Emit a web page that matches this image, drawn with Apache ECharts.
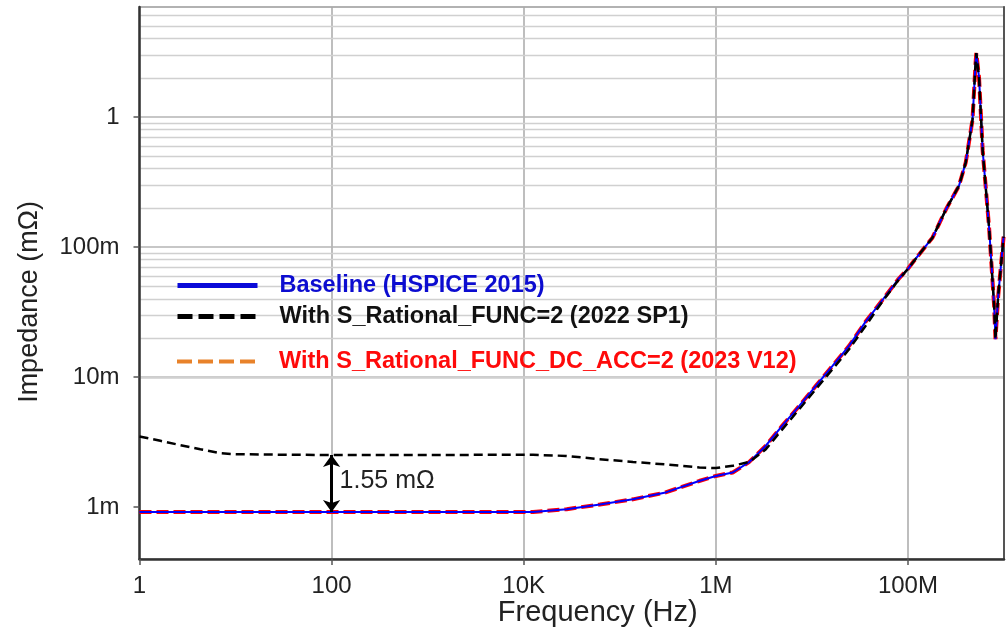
<!DOCTYPE html>
<html><head><meta charset="utf-8">
<script src="https://cdn.jsdelivr.net/npm/echarts@6/dist/echarts.min.js"></script>
<style>html,body{margin:0;padding:0;background:#fff}#c{width:1007px;height:627px}</style>
</head><body><div id="c"></div>
<script>
// ---- data (frequency in Hz, impedance in ohm) ----
const baseFreq = [1, 10, 100, 1e3, 5.6e3, 1.25e4, 2.8e4, 6.2e4, 1.37e5, 3.0e5, 6.7e5, 1e6, 1.5e6, 2.2e6, 3.3e6, 4.9e6, 7.4e6, 1.1e7, 1.64e7, 2.44e7, 3.6e7, 5.4e7, 8.0e7, 1.0e8, 1.2e8, 1.8e8, 2.5e8, 3.4e8, 4.0e8, 4.7e8, 5.06e8, 5.15e8, 5.5e8, 6.0e8, 7.0e8, 7.9e8, 8.15e8, 8.7e8, 9.9e8];
const baselineValues = [0.92e-3, 0.92e-3, 0.92e-3, 0.92e-3, 0.92e-3, 0.92e-3, 0.966e-3, 1.05e-3, 1.15e-3, 1.30e-3, 1.59e-3, 1.74e-3, 1.85e-3, 2.21e-3, 2.96e-3, 4.22e-3, 6.02e-3, 8.57e-3, 12.2e-3, 17.4e-3, 26.5e-3, 39e-3, 57e-3, 68e-3, 81e-3, 118e-3, 196e-3, 296e-3, 448e-3, 0.95, 2.6, 3.1, 2.0, 0.55, 0.14, 0.035, 0.0196, 0.042, 0.12];
const dcAccValues = [0.92e-3, 0.92e-3, 0.92e-3, 0.92e-3, 0.92e-3, 0.92e-3, 0.966e-3, 1.05e-3, 1.15e-3, 1.30e-3, 1.59e-3, 1.74e-3, 1.85e-3, 2.21e-3, 2.96e-3, 4.22e-3, 6.02e-3, 8.57e-3, 12.2e-3, 17.4e-3, 26.5e-3, 39e-3, 57e-3, 68e-3, 81e-3, 118e-3, 196e-3, 296e-3, 448e-3, 0.95, 2.6, 3.1, 2.0, 0.55, 0.14, 0.035, 0.0196, 0.042, 0.12];
const sp1Freq = [1, 1.65, 2.67, 4.3, 6.9, 9.5, 21, 100, 1e3, 5.6e3, 1.25e4, 2.77e4, 6.16e4, 1.37e5, 3.04e5, 6.74e5, 1e6, 1.5e6, 2.23e6, 3.32e6, 4.94e6, 7.38e6, 1.1e7, 1.64e7, 2.44e7, 3.63e7, 5.4e7, 8.0e7, 1.0e8, 1.2e8, 1.8e8, 2.5e8, 3.4e8, 4.0e8, 4.7e8, 5.06e8, 5.15e8, 5.5e8, 6.0e8, 7.0e8, 7.9e8, 8.15e8, 8.7e8, 9.9e8];
const sp1Values = [3.50e-3, 3.24e-3, 3.0e-3, 2.79e-3, 2.60e-3, 2.56e-3, 2.54e-3, 2.52e-3, 2.52e-3, 2.53e-3, 2.53e-3, 2.48e-3, 2.34e-3, 2.23e-3, 2.13e-3, 2.02e-3, 2.0e-3, 2.08e-3, 2.23e-3, 2.79e-3, 3.98e-3, 5.67e-3, 8.09e-3, 11.5e-3, 16.4e-3, 24.8e-3, 38e-3, 56e-3, 68e-3, 81e-3, 118e-3, 196e-3, 296e-3, 448e-3, 0.95, 2.6, 3.1, 2.0, 0.55, 0.14, 0.035, 0.0196, 0.042, 0.12];

const seriesNames = ['Baseline (HSPICE 2015)', 'With S_Rational_FUNC=2 (2022 SP1)', 'With S_Rational_FUNC_DC_ACC=2 (2023 V12)'];

const xTickValues = [1, 100, 1e4, 1e6, 1e8];
const xTickLabels = ['1', '100', '10K', '1M', '100M'];
const xGridValues = [100, 1e4, 1e6, 1e8];
const yTickValues = [1e-3, 1e-2, 1e-1, 1];
const yTickLabels = ['1m', '10m', '100m', '1'];
const yMinorValues = [5e-4, 6e-4, 7e-4, 8e-4, 9e-4,
  2e-3, 3e-3, 4e-3, 5e-3, 6e-3, 7e-3, 8e-3, 9e-3,
  2e-2, 3e-2, 4e-2, 5e-2, 6e-2, 7e-2, 8e-2, 9e-2,
  0.2, 0.3, 0.4, 0.5, 0.6, 0.7, 0.8, 0.9,
  2, 3, 4, 5, 6];

const deltaFreq = 100;
const deltaTop = 2.52e-3;
const deltaBottom = 0.92e-3;
const deltaLabelValue = 1.578e-3;
const deltaText = '1.55 mΩ';

// ---- chart ----
const FONT = '"Liberation Sans", Arial, sans-serif';
const zip = (xs, ys) => xs.map((x, i) => [x, ys[i]]);
const pickLabel = (vals, labels) => v => {
  for (let i = 0; i < vals.length; i++) {
    if (Math.abs(Math.log10(v) - Math.log10(vals[i])) < 1e-6) return labels[i];
  }
  return '';
};

const gridLines = [];
xGridValues.forEach(v => gridLines.push({ xAxis: v, lineStyle: { color: '#a8a8a8', width: 1.5, type: 'solid' } }));
yTickValues.forEach(v => gridLines.push({ yAxis: v, lineStyle: { color: '#b4b4b4', width: 1.5, type: 'solid' } }));
yMinorValues.forEach(v => gridLines.push({ yAxis: v, lineStyle: { color: '#d0d0d0', width: 1.3, type: 'solid' } }));

const chart = echarts.init(document.getElementById('c'), null, { renderer: 'canvas' });
const legendBase = {
  orient: 'horizontal', left: 170, itemWidth: 80, itemHeight: 14, selectedMode: false,
  itemStyle: { color: 'rgba(0,0,0,0)', borderWidth: 0, opacity: 0 }
};
chart.setOption({
  animation: false,
  backgroundColor: '#fff',
  grid: { left: 139.5, right: 3, top: 7, bottom: 68, show: true, borderColor: '#999', borderWidth: 1.5, backgroundColor: '#fff', containLabel: false, outerBoundsMode: 'none' },
  legend: [
    Object.assign({}, legendBase, { top: 268.5, data: [seriesNames[0]],
      textStyle: { color: '#0c0cd0', fontSize: 23.5, fontWeight: 'bold', fontFamily: FONT, padding: [0, 0, 0, 17] },
      lineStyle: { width: 5, color: '#0a0ad8', type: 'solid' } }),
    Object.assign({}, legendBase, { top: 299.5, data: [seriesNames[1]],
      textStyle: { color: '#111', fontSize: 23.5, fontWeight: 'bold', fontFamily: FONT, padding: [0, 0, 0, 17] },
      lineStyle: { width: 5, color: '#000', type: [15, 6] } }),
    Object.assign({}, legendBase, { top: 344.5, data: [seriesNames[2]],
      textStyle: { color: '#ff0a0a', fontSize: 23.5, fontWeight: 'bold', fontFamily: FONT, padding: [0, 0, 0, 17] },
      lineStyle: { width: 4, color: '#e8822a', type: [15, 6] } })
  ],
  xAxis: {
    type: 'log', logBase: 10, min: 1, max: 1e9, z: 3,
    axisLine: { show: true, onZero: false, lineStyle: { color: '#333', width: 2.5 } },
    axisTick: { show: true, customValues: xTickValues, length: 6, lineStyle: { color: '#555', width: 1.5 } },
    axisLabel: { customValues: xTickValues, formatter: pickLabel(xTickValues, xTickLabels), margin: 15, fontSize: 24, color: '#222', fontFamily: FONT },
    splitLine: { show: false },
    name: 'Frequency (Hz)', nameLocation: 'middle', nameGap: 39, nameMoveOverlap: false,
    nameTextStyle: { fontSize: 29, color: '#222', fontFamily: FONT, padding: [0, 0, 0, 52] }
  },
  yAxis: [{
    type: 'log', logBase: 10, min: 4e-4, max: 7, position: 'left', z: 3,
    axisLine: { show: true, onZero: false, lineStyle: { color: '#333', width: 2.5 } },
    axisTick: { show: true, customValues: yTickValues, length: 6, lineStyle: { color: '#555', width: 1.5 } },
    axisLabel: { customValues: yTickValues, formatter: pickLabel(yTickValues, yTickLabels), margin: 20, fontSize: 24, color: '#222', fontFamily: FONT, padding: [3, 0, 0, 0] },
    splitLine: { show: false },
    name: 'Impedance (mΩ)', nameLocation: 'middle', nameGap: 96,
    nameTextStyle: { fontSize: 27, color: '#222', fontFamily: FONT, padding: [0, 38, 0, 0] }
  }, {
    type: 'log', logBase: 10, min: 4e-4, max: 7, position: 'right', z: 3,
    axisLine: { show: true, onZero: false, lineStyle: { color: '#555', width: 2 } },
    axisTick: { show: false }, axisLabel: { show: false }, splitLine: { show: false }
  }],
  series: [
    {
      name: seriesNames[2], type: 'line', data: zip(baseFreq, dcAccValues), symbol: 'none', z: 3,
      lineStyle: { color: '#ff0000', width: 4, type: [12, 5] },
      markLine: { z: 1, silent: true, symbol: ['none', 'none'], label: { show: false }, animation: false, data: gridLines }
    },
    {
      name: seriesNames[0], type: 'line', data: zip(baseFreq, baselineValues), symbol: 'none', z: 4,
      lineStyle: { color: '#0000ff', width: 2 }
    },
    {
      name: seriesNames[1], type: 'line', data: zip(sp1Freq, sp1Values), symbol: 'none', z: 5,
      lineStyle: { color: '#000', width: 2.5, type: [9, 5] },
      markLine: {
        silent: true, symbol: ['arrow', 'arrow'], symbolSize: [13, 12], label: { show: false }, animation: false,
        lineStyle: { color: '#000', width: 3, type: 'solid' },
        data: [[{ coord: [deltaFreq, deltaTop] }, { coord: [deltaFreq, deltaBottom] }]]
      },
      markPoint: {
        silent: true, symbol: 'circle', symbolSize: 0, animation: false,
        label: { show: true, position: 'right', distance: 8, formatter: deltaText, fontSize: 25, color: '#222', fontFamily: FONT },
        data: [{ coord: [deltaFreq, deltaLabelValue] }]
      }
    }
  ]
});
</script>
</body></html>
